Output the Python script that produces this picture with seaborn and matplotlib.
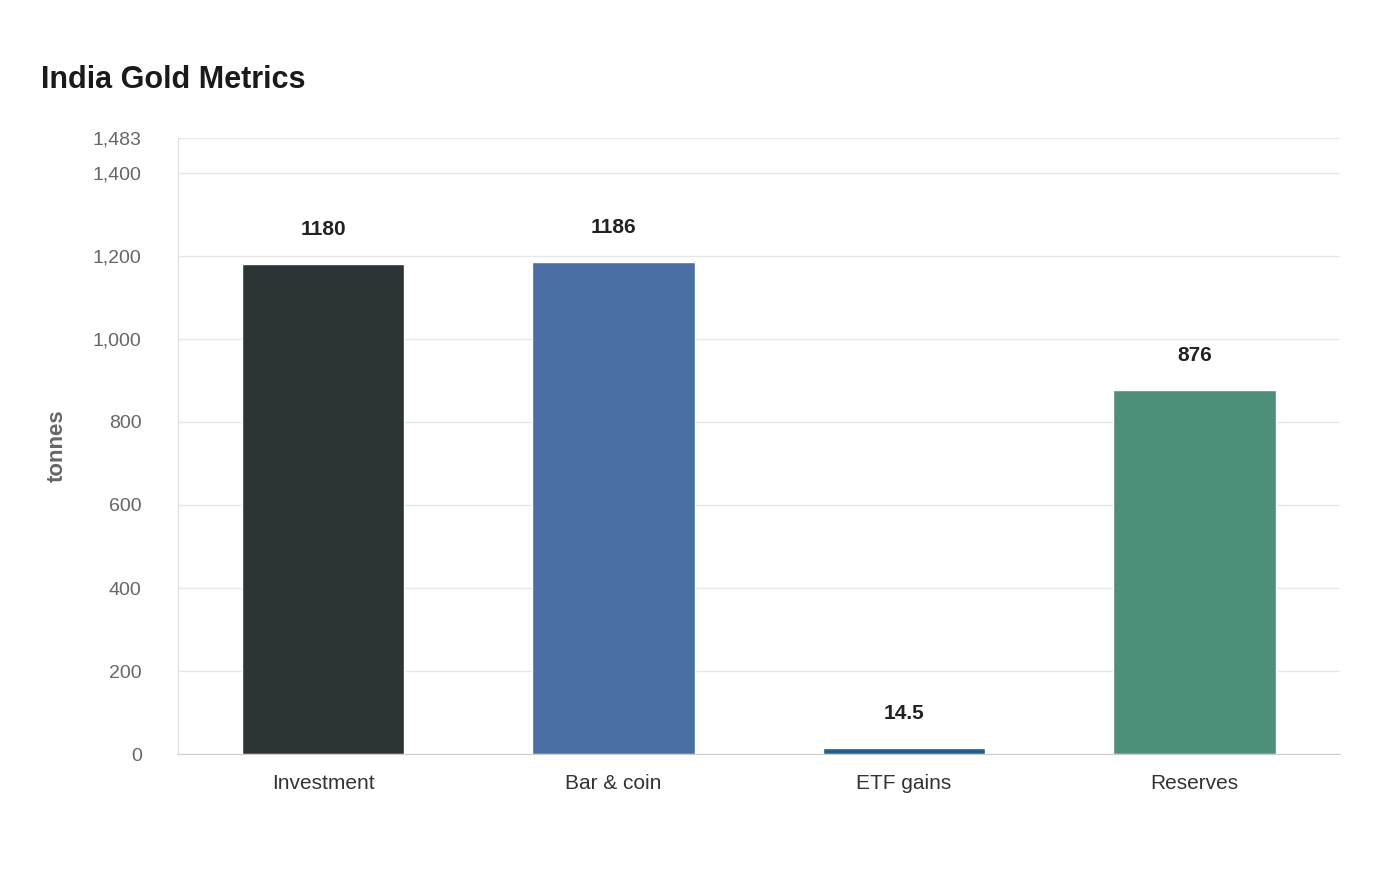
import numpy as np
import pandas as pd
import seaborn as sns
import matplotlib.pyplot as plt

categories = ["Investment", "Bar & coin", "ETF gains", "Reserves"]
values = [1180, 1186, 14.5, 876]
labels = ["1180", "1186", "14.5", "876"]
colors = ["#2d3436", "#4a6fa5", "#1f5f8b", "#4e8f7a"]
yticks = [0, 200, 400, 600, 800, 1000, 1200, 1400, 1483]

sns.set_style("white")
plt.rcParams['font.family'] = ['Liberation Sans', 'DejaVu Sans']

df = pd.DataFrame({"category": categories, "value": values})

fig = plt.figure(figsize=(14, 8.8), dpi=100)
ax = fig.add_axes([0.127, 0.143, 0.83, 0.7])

sns.barplot(data=df, x="category", y="value", hue="category",
            palette=colors, width=0.56, ax=ax, legend=False, saturation=1)

ax.set_ylim(0, 1483)
ax.set_yticks(yticks, [f"{t:,}" for t in yticks])
ax.yaxis.grid(True, color="#e8e8e8", linewidth=1)
ax.set_axisbelow(True)
ax.tick_params(axis="y", labelsize=14, labelcolor="#666666", length=0, pad=26)
ax.tick_params(axis="x", labelsize=15, labelcolor="#333333", length=0, pad=14)
for s in ["top", "right"]:
    ax.spines[s].set_visible(False)
ax.spines["left"].set_color("#dddddd")
ax.spines["bottom"].set_color("#cccccc")
ax.set_xlabel("")
ax.set_ylabel("tonnes", fontsize=16, fontweight="bold", color="#666666", labelpad=18)

for i, (v, lab) in enumerate(zip(values, labels)):
    ax.annotate(lab, (i, v), xytext=(0, 18), textcoords="offset points",
                ha="center", va="bottom", fontsize=15, fontweight="bold", color="#222222")

fig.text(0.029, 0.909, "India Gold Metrics", fontsize=22, fontweight="bold",
         color="#1a1a1a", ha="left", va="center")

fig.savefig("out.png", dpi=100)
